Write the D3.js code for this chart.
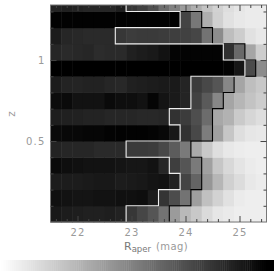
<!DOCTYPE html>
<html>
<head>
<meta charset="utf-8">
<script src="https://cdn.jsdelivr.net/npm/d3@7"></script>
<style>
  html, body { margin: 0; padding: 0; background: #fff; }
  svg { display: block; }
  text { font-family: "DejaVu Sans", sans-serif; opacity: 0.99; }
</style>
</head>
<body>
<div id="chart"></div>
<script>
// cell grey levels per z band, bottom band first, 20 bins of Raper
var row0 = [24,28,30,32,32,30,34,55,70,85,115,155,185,200,218,230,234,238,238,238]
var row1 = [16,18,20,20,18,18,16,16,14,28,52,76,115,158,192,210,225,235,238,238]
var row2 = [28,28,28,26,24,24,28,26,24,20,18,34,68,100,150,182,208,220,232,236]
var row3 = [10,14,16,18,18,18,20,22,22,18,38,62,85,122,160,198,216,228,235,238]
var row4 = [35,38,38,38,42,42,42,58,58,60,72,92,122,170,200,222,232,236,238,238]
var row5 = [10,8,8,6,6,3,2,2,2,4,8,24,50,72,125,160,198,222,230,232]
var row6 = [30,32,33,35,35,38,38,38,40,40,38,50,60,78,108,168,178,202,214,222]
var row7 = [12,10,18,18,18,10,14,14,18,5,20,26,36,66,90,135,165,182,195,205]
var row8 = [28,35,36,34,34,38,40,32,30,28,26,26,36,60,72,85,135,165,190,200]
var row9 = [0,0,0,0,0,0,0,0,0,0,0,0,0,0,0,0,3,22,75,140]
var row10 = [38,42,40,38,44,42,42,32,28,25,18,4,3,3,3,3,48,105,165,205]
var row11 = [28,38,40,42,42,42,55,60,58,58,60,62,65,70,115,140,190,205,225,232]
var row12 = [2,2,2,2,2,2,2,2,2,2,2,2,68,120,175,208,225,232,235,235]
var row13 = [35,32,35,38,38,38,30,55,65,80,110,130,155,175,195,210,222,230,235,235]
var rows = [row0,row1,row2,row3,row4,row5,row6,row7,row8,row9,row10,row11,row12,row13]

var zEdges = [0,0.1,0.2,0.3,0.4,0.5,0.6,0.7,0.8,0.9,1,1.1,1.2,1.3,1.34]
var magEdges = [21.5,21.7,21.9,22.1,22.3,22.5,22.7,22.9,23.1,23.3,23.5,23.7,23.9,24.1,24.3,24.5,24.7,24.9,25.1,25.3,25.5]

// contour position in each z band
var whiteEdge = [22.9,23.5,23.9,23.7,22.9,23.9,23.7,24.1,24.1,25.1,24.7,22.7,23.9,22.9]
var blackEdge = [23.7,24.1,24.3,24.3,24.1,24.5,24.5,24.7,24.9,25.3,25.1,24.5,24.3]

var magTicks = [22,23,24,25]
var magMinor = [21.6,21.8,22.2,22.4,22.6,22.8,23.2,23.4,23.6,23.8,24.2,24.4,24.6,24.8,25.2,25.4]
var zTicks = [0.5,1]
var zMinor = [0.1,0.2,0.3,0.4,0.6,0.7,0.8,0.9,1.1,1.2,1.3]

var svg = d3.select('#chart').append('svg')
  .attr("width", 274)
  .attr("height", 271)

var x = d3.scaleLinear().domain([21.5, 25.5]).range([50.5, 266.5])
var y = d3.scaleLinear().domain([0, 1.34]).range([222, 5])
var grey = d3.scaleLinear().domain([0, 255]).range(["#000", "#fff"])

// cells
rows.forEach(function (row, i) {
  svg.append("g").selectAll("rect")
    .data(row)
    .enter().append("rect")
    .attr("x", function (d, j) { return x(magEdges[j]) })
    .attr("width", function (d, j) { return x(magEdges[j + 1]) - x(magEdges[j]) + 0.5 })
    .attr("y", y(zEdges[i + 1]))
    .attr("height", y(zEdges[i]) - y(zEdges[i + 1]) + 0.5)
    .attr("fill", function (d) { return grey(d) })
})

function stepPoints(edges) {
  var pts = []
  edges.forEach(function (m, i) {
    pts.push([x(m), y(zEdges[i])])
    pts.push([x(m), y(zEdges[i + 1])])
  })
  return pts
}

var line = d3.line()

// black contour closes on the white one at the top
var blackPts = stepPoints(blackEdge)
blackPts.push([x(whiteEdge[12]), y(zEdges[13])])

svg.append("path")
  .attr("d", line(blackPts))
  .attr("fill", "none")
  .attr("stroke", "#000")
  .attr("stroke-width", 1.1)

svg.append("path")
  .attr("d", line(stepPoints(whiteEdge)))
  .attr("fill", "none")
  .attr("stroke", "#eee")
  .attr("stroke-width", 1.1)

// frame
svg.append("rect")
  .attr("x", x(21.5))
  .attr("y", y(1.34))
  .attr("width", x(25.5) - x(21.5))
  .attr("height", y(0) - y(1.34))
  .attr("fill", "none")
  .attr("stroke", "#777")

function styleAxis(g) {
  g.select(".domain").remove()
  g.selectAll("line").attr("stroke", "#444")
  g.selectAll("text")
    .attr("fill", "#999")
    .style("font-size", "10px")
    .style("letter-spacing", "1.2px")
}

var noLabel = function () { return "" }

svg.append("g").attr("transform", "translate(0," + y(0) + ")")
  .call(d3.axisBottom(x).tickValues(magMinor).tickSize(-3).tickFormat(noLabel)).call(styleAxis)
svg.append("g").attr("transform", "translate(0," + y(0) + ")")
  .call(d3.axisBottom(x).tickValues(magTicks).tickSize(-6).tickPadding(7).tickFormat(d3.format("d"))).call(styleAxis)
svg.append("g").attr("transform", "translate(0," + y(1.34) + ")")
  .call(d3.axisTop(x).tickValues(magMinor).tickSize(-3).tickFormat(noLabel)).call(styleAxis)
svg.append("g").attr("transform", "translate(0," + y(1.34) + ")")
  .call(d3.axisTop(x).tickValues(magTicks).tickSize(-6).tickFormat(noLabel)).call(styleAxis)

svg.append("g").attr("transform", "translate(" + x(21.5) + ",0)")
  .call(d3.axisLeft(y).tickValues(zMinor).tickSize(-3).tickFormat(noLabel)).call(styleAxis)
svg.append("g").attr("transform", "translate(" + x(21.5) + ",0)")
  .call(d3.axisLeft(y).tickValues(zTicks).tickSize(-6).tickPadding(5).tickFormat(d3.format(".2~f"))).call(styleAxis)
svg.append("g").attr("transform", "translate(" + x(25.5) + ",0)")
  .call(d3.axisRight(y).tickValues(zMinor).tickSize(-3).tickFormat(noLabel)).call(styleAxis)
svg.append("g").attr("transform", "translate(" + x(25.5) + ",0)")
  .call(d3.axisRight(y).tickValues(zTicks).tickSize(-6).tickFormat(noLabel)).call(styleAxis)

// axis titles
var xTitle = svg.append("text")
  .attr("x", 124)
  .attr("y", 250)
  .attr("fill", "#777")
  .style("font-size", "11px")
xTitle.append("tspan").text("R")
xTitle.append("tspan").attr("dy", 2).style("font-size", "8.5px").text("aper")
xTitle.append("tspan").attr("dx", 5).attr("dy", -2).attr("fill", "#999").style("font-size", "10px").style("letter-spacing", "0.4px").text("(mag)")

svg.append("text")
  .attr("transform", "translate(15,114) rotate(-90)")
  .attr("text-anchor", "middle")
  .attr("fill", "#999")
  .style("font-size", "10.5px")
  .text("z")

// colour bar
var barX = d3.scaleLinear().domain([255, 0]).range([0, 266])
var barLevels = d3.range(0, 256, 2)
svg.append("g").selectAll("rect")
  .data(barLevels)
  .enter().append("rect")
  .attr("x", function (d) { return barX(d) })
  .attr("y", 260)
  .attr("width", barX(0) - barX(2) + 0.5)
  .attr("height", 11)
  .attr("fill", function (d) { return grey(d) })
svg.append("rect")
  .attr("x", 266).attr("y", 260).attr("width", 8).attr("height", 11)
  .attr("fill", grey(0))
</script>
</body>
</html>
